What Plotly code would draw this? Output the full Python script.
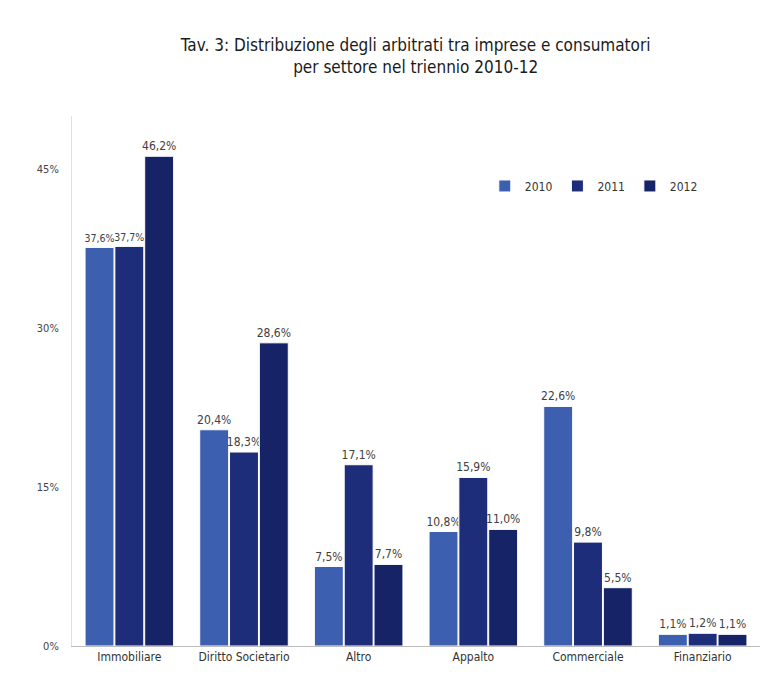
import plotly.graph_objects as go

categories = ["Immobiliare", "Diritto Societario", "Altro", "Appalto", "Commerciale", "Finanziario"]
years = ["2010", "2011", "2012"]
v2010 = [37.6, 20.4, 7.5, 10.8, 22.6, 1.1]
v2011 = [37.7, 18.3, 17.1, 15.9, 9.8, 1.2]
v2012 = [46.2, 28.6, 7.7, 11.0, 5.5, 1.1]
series = [v2010, v2011, v2012]
colors = ["#3d5fb0", "#1d2d7a", "#162366"]
tick_vals = [0, 15, 30, 45]
tick_text = ["0%", "15%", "30%", "45%"]

font_family = "Liberation Sans Narrow, Arial Narrow, DejaVu Sans Condensed, sans-serif"

fig = go.Figure()
for i, (y, vals, c) in enumerate(zip(years, series, colors)):
    sizes = [12] * len(vals)
    if i < 2:
        sizes[0] = 10.5  # tight neighbouring labels on Immobiliare
    fig.add_trace(go.Bar(
        name=y, x=categories, y=vals,
        marker=dict(color=c, line=dict(color="#ffffff", width=1)),
        text=[f"{v:.1f}%".replace(".", ",") for v in vals],
        textposition="outside", cliponaxis=False, constraintext="none",
        textfont=dict(size=sizes, color="#404040", family=font_family),
    ))

fig.update_layout(
    width=762, height=666,
    barmode="group", bargap=0.22, bargroupgap=0.03,
    plot_bgcolor="white", paper_bgcolor="white",
    margin=dict(l=64, r=10, t=108, b=28, autoexpand=False),
    title=dict(text="Tav. 3: Distribuzione degli arbitrati tra imprese e consumatori<br>per settore nel triennio 2010-12",
               x=0.535, xanchor="center", y=0.935, yanchor="top",
               font=dict(size=17, color="#1a1a1a", family=font_family)),
    legend=dict(orientation="h", x=0.6, y=0.868, xanchor="left", yanchor="middle",
                font=dict(size=12, color="#333333", family=font_family),
                traceorder="normal"),
    xaxis=dict(showline=True, linecolor="#bbbbbb", tickfont=dict(size=12, color="#333333", family=font_family),
               ticks=""),
    yaxis=dict(range=[0, 50], tickvals=tick_vals, ticktext=tick_text, showgrid=False,
               showline=True, linecolor="#e0e0e0", zeroline=False, ticklabelstandoff=10,
               tickfont=dict(size=11, color="#444444", family=font_family)),
    showlegend=True,
)
fig.write_html("out.html")
